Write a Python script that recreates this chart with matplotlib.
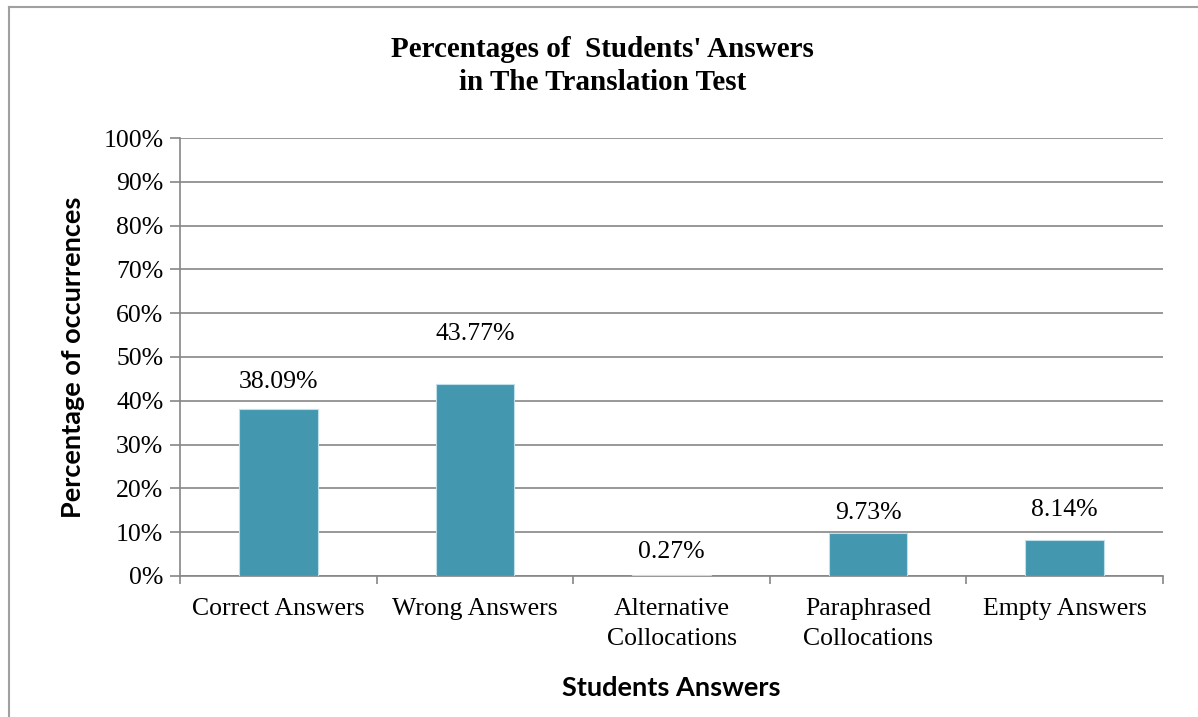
import numpy as np
import matplotlib
matplotlib.use("Agg")
import matplotlib.pyplot as plt
from matplotlib.lines import Line2D

categories = ["Correct Answers", "Wrong Answers", "Alternative\nCollocations",
              "Paraphrased\nCollocations", "Empty Answers"]
values = [38.09, 43.77, 0.27, 9.73, 8.14]
label_texts = ["38.09%", "43.77%", "0.27%", "9.73%", "8.14%"]
yticks = list(range(0, 101, 10))

BAR = "#4398B0"
GRID = "#868686"
SERIF = "Liberation Serif"
SANS = "Lato"

fig = plt.figure(figsize=(11.98, 7.17), dpi=100)
ax = fig.add_axes([0.1503, 0.1967, 0.8205, 0.6108])

x = np.arange(len(categories))
ax.bar(x, values, width=0.4, color=BAR, edgecolor="#BFE0EA", linewidth=0.8, zorder=3)

# data labels (nudged by hand like the original)
offsets = [19.5, 36.5, 16.5, 14.5, 21.5]
for xi, v, t, off in zip(x, values, label_texts, offsets):
    ax.annotate(t, (xi, v), xytext=(0, off), textcoords="offset points",
                ha="center", va="center", fontsize=18.5, family=SERIF)

ax.set_xlim(-0.5, len(categories) - 0.5)
ax.set_ylim(0, 100)
ax.set_yticks(yticks)
ax.set_yticklabels([f"{t}%" for t in yticks], fontsize=18.5, family=SERIF)
ax.yaxis.grid(True, color=GRID, lw=1.2, zorder=0)
ax.set_axisbelow(True)

ax.set_xticks(np.arange(-0.5, len(categories), 1.0))
ax.set_xticklabels([])
ax.set_xticks(x, minor=True)
ax.set_xticklabels(categories, minor=True, fontsize=18.5, family=SERIF,
                   linespacing=1.45)
ax.tick_params(axis="x", which="minor", length=0, pad=16)
ax.tick_params(axis="x", which="major", length=6, color=GRID, width=1.2)
ax.tick_params(axis="y", length=7, color=GRID, width=1.2, pad=5)
for s in ("top", "right"):
    ax.spines[s].set_visible(False)
for s in ("left", "bottom"):
    ax.spines[s].set_color(GRID)
    ax.spines[s].set_linewidth(1.2)

ax.set_ylabel("Percentage of occurrences", fontsize=19.5, family=SANS,
              weight="bold", labelpad=13)
ax.set_xlabel("Students Answers", fontsize=19.5, family=SANS, weight="bold",
              labelpad=19)
fig.text(0.503, 0.908, "Percentages of  Students' Answers\nin The Translation Test",
         ha="center", va="center", fontsize=21, family=SERIF, weight="bold",
         linespacing=1.3)

# outer chart border (left and top visible in the cropped original)
fig.add_artist(Line2D([9 / 1198, 9 / 1198], [0, 1 - 7 / 717], color="#A0A0A0", lw=1.5,
                      transform=fig.transFigure))
fig.add_artist(Line2D([9 / 1198, 1], [1 - 7 / 717, 1 - 7 / 717], color="#A0A0A0", lw=1.5,
                      transform=fig.transFigure))

fig.savefig("out.png", dpi=100)
